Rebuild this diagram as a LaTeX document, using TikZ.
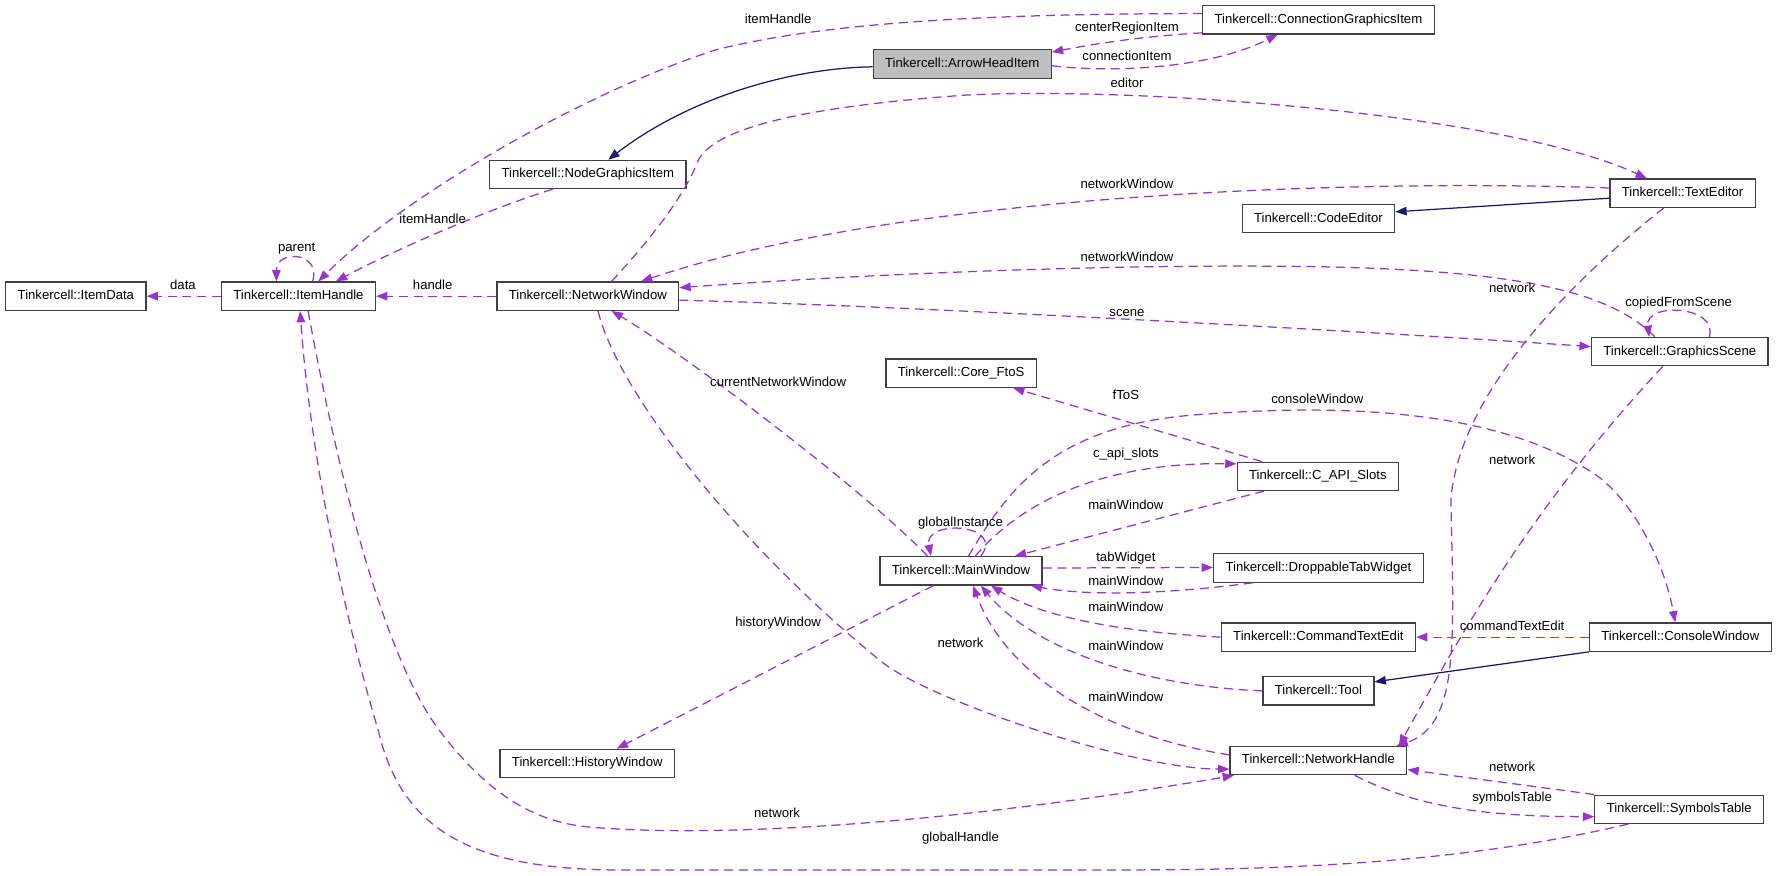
\documentclass[tikz,border=0pt]{standalone}
\usepackage{fontspec}
\setmainfont{Liberation Sans}
\usetikzlibrary{arrows.meta}
\definecolor{mbrcol}{HTML}{9A32CD}
\definecolor{inhcol}{HTML}{191970}

\begin{document}
\begin{tikzpicture}[x=1pt,y=-1pt,
cls/.style={draw=black!75,line width=1.1pt,fill=white,minimum height=25pt,inner xsep=10.5pt,inner ysep=0pt,text height=8.5pt,text depth=2.5pt,font=\fontsize{11.6}{13}\selectfont},
cur/.style={cls,fill=black!25},
mbr/.style={draw=mbrcol,line width=1.1pt,dash pattern=on 8pt off 5pt,-{Triangle[length=10pt,width=7.5pt]}},
inh/.style={draw=inhcol,line width=1.1pt,-{Triangle[length=10pt,width=7.5pt]}},
lbl/.style={inner sep=0pt,text height=8.5pt,text depth=2.5pt,font=\fontsize{11.6}{13}\selectfont}]
\useasboundingbox (0,0) rectangle (1568,773);
\node[cur] (ahi) at (849.5,56.5) {Tinkercell::ArrowHeadItem};
\node[cls] (cgi) at (1164,17.5) {Tinkercell::ConnectionGraphicsItem};
\node[cls] (ngi) at (519,154) {Tinkercell::NodeGraphicsItem};
\node[cls] (idata) at (67,261.5) {Tinkercell::ItemData};
\node[cls] (ihandle) at (263.5,261.5) {Tinkercell::ItemHandle};
\node[cls] (nwin) at (519,261.5) {Tinkercell::NetworkWindow};
\node[cls] (ted) at (1485.5,170.5) {Tinkercell::TextEditor};
\node[cls] (ced) at (1164,193) {Tinkercell::CodeEditor};
\node[cls] (gscene) at (1483,310.5) {Tinkercell::GraphicsScene};
\node[cls] (ftos) at (848.5,329.5) {Tinkercell::Core\_FtoS};
\node[cls] (capi) at (1163.5,420.5) {Tinkercell::C\_API\_Slots};
\node[cls] (mwin) at (848.5,504) {Tinkercell::MainWindow};
\node[cls] (dtw) at (1164,501.5) {Tinkercell::DroppableTabWidget};
\node[cls] (cte) at (1164,562.5) {Tinkercell::CommandTextEdit};
\node[cls] (cwin) at (1483.5,562.5) {Tinkercell::ConsoleWindow};
\node[cls] (tool) at (1164,610) {Tinkercell::Tool};
\node[cls] (hwin) at (518.5,674) {Tinkercell::HistoryWindow};
\node[cls] (nhandle) at (1164,671.5) {Tinkercell::NetworkHandle};
\node[cls] (stable) at (1482.5,714.5) {Tinkercell::SymbolsTable};
\draw[inh] ([yshift=-2.5pt]ahi.west) .. controls (700,60) and (610,85) .. ([xshift=18pt]ngi.north);
\draw[inh] ([yshift=-4.5pt]ted.west) -- ([yshift=6pt]ced.east);
\draw[inh] (cwin.south west) -- ([yshift=8pt]tool.east);
\draw[mbr] ([yshift=-11.5pt]cgi.west) .. controls (1010,32) and (970,38) .. ([yshift=10.5pt]ahi.east);
\draw[mbr] ([yshift=-1.5pt]ahi.east) .. controls (975,64) and (1065,62) .. ([xshift=-36pt]cgi.south);
\draw[mbr] ([yshift=5.5pt]cgi.west) .. controls (850,12) and (720,22) .. (632,44) .. controls (520,80) and (360,170) .. ([xshift=17.5pt]ihandle.north);
\draw[mbr] ([xshift=-31pt]ngi.south) .. controls (430,185) and (350,220) .. ([xshift=33pt]ihandle.north);
\draw[mbr] ([xshift=12.5pt]ihandle.north) .. controls (284,222) and (244,220) .. ([xshift=-19.5pt]ihandle.north);
\draw[mbr] (ihandle.west) -- (idata.east);
\draw[mbr] (nwin.west) -- (ihandle.east);
\draw[mbr] ([xshift=21pt]nwin.north) .. controls (580,205) and (605,170) .. (615,145) .. controls (625,115) and (700,95) .. (852,84) .. controls (1000,76) and (1330,100) .. ([xshift=-31.5pt]ted.north);
\draw[mbr] ([yshift=4.5pt]ted.west) .. controls (1200,158) and (800,170) .. ([xshift=47pt]nwin.north);
\draw[mbr] ([xshift=-22pt]gscene.north) .. controls (1420,255) and (1330,236) .. (1121,235) .. controls (950,234) and (750,243) .. ([yshift=7.5pt]nwin.east);
\draw[mbr] ([yshift=-3.5pt]nwin.east) .. controls (800,270) and (1200,292) .. ([yshift=4.5pt]gscene.west);
\draw[mbr] ([xshift=26pt]gscene.north) .. controls (1518,270) and (1452,266) .. ([xshift=-27pt]gscene.north);
\draw[mbr] ([xshift=-16.5pt]ted.south) .. controls (1400,238) and (1290,340) .. (1281,440) .. controls (1283,560) and (1290,640) .. ([xshift=69pt]nhandle.north);
\draw[mbr] ([xshift=-15pt]gscene.south) .. controls (1350,450) and (1290,560) .. ([xshift=71pt]nhandle.north);
\draw[mbr] ([xshift=-29.5pt]mwin.north) .. controls (760,430) and (600,310) .. ([xshift=21pt]nwin.south);
\draw[mbr] ([xshift=17.5pt]mwin.north) .. controls (888,462) and (815,458) .. ([xshift=-26.5pt]mwin.north);
\draw[mbr] ([xshift=6.5pt]mwin.north) .. controls (890,432) and (930,375) .. (1059,366) .. controls (1200,355) and (1330,365) .. (1410,420) .. controls (1445,446) and (1470,500) .. ([xshift=-4.5pt]cwin.north);
\draw[mbr] ([xshift=12.5pt]mwin.north) .. controls (900,445) and (970,408) .. ([yshift=11pt]capi.west);
\draw[mbr] ([xshift=-49.5pt]capi.north) -- ([xshift=46pt]ftos.south);
\draw[mbr] ([xshift=-47.5pt]capi.south) -- ([xshift=47.5pt]mwin.north);
\draw[mbr] ([yshift=2.5pt]mwin.east) -- ([yshift=0.5pt]dtw.west);
\draw[mbr] ([xshift=-58pt]dtw.south) .. controls (1050,522) and (970,528) .. ([xshift=61.5pt]mwin.south);
\draw[mbr] (cte.west) .. controls (990,558) and (920,545) .. ([xshift=26.5pt]mwin.south);
\draw[mbr] (tool.west) .. controls (1000,605) and (910,570) .. ([xshift=17.5pt]mwin.south);
\draw[mbr] ([yshift=5pt]nhandle.west) .. controls (980,650) and (890,600) .. ([xshift=10.5pt]mwin.south);
\draw[mbr] ([xshift=-24.5pt]mwin.south) -- ([xshift=26pt]hwin.north);
\draw[mbr] ([xshift=9pt]nwin.south) .. controls (545,345) and (650,480) .. (778,584) .. controls (820,618) and (1000,679) .. ([yshift=-7.5pt]nhandle.west);
\draw[mbr] ([xshift=8.5pt]ihandle.south) .. controls (295,400) and (335,575) .. (388,645) .. controls (430,700) and (470,725) .. (518,730) .. controls (600,737) and (700,732) .. (783,725) .. controls (880,717) and (1000,700) .. ([xshift=4pt]nhandle.south west);
\draw[mbr] ([xshift=-45pt]stable.south) .. controls (1300,760) and (1150,768) .. (1000,768) -- (560,768) .. controls (420,770) and (355,735) .. (334,645) .. controls (313,576) and (275,420) .. ([xshift=1.5pt]ihandle.south);
\draw[mbr] (stable.north west) -- ([yshift=-8pt]nhandle.east);
\draw[mbr] ([xshift=32pt]nhandle.south) .. controls (1250,712) and (1310,721) .. ([yshift=-6.5pt]stable.west);
\draw[mbr] (cwin.west) -- (cte.east);
\foreach \t/\x/\y [count=\n] in {itemHandle/687/18, centerRegionItem/995/24.5, connectionItem/995/50, editor/995/74.5, itemHandle/382/194, parent/262/219, data/161.5/253, handle/382/253, networkWindow/995/163, networkWindow/995/228, network/1335/255, copiedFromScene/1482/268, scene/995/276, currentNetworkWindow/687/338, fToS/994/350, consoleWindow/1163/353, c\_api\_slots/994/401, network/1335/407, mainWindow/994/447, globalInstance/848/462, tabWidget/994/493, mainWindow/994/514, mainWindow/994/537, historyWindow/687/550, commandTextEdit/1335/553.5, network/848/569, mainWindow/994/571, mainWindow/994/616, network/1335/678, symbolsTable/1335/705, network/686/719, globalHandle/848/740}
\node[lbl] (lab\n) at (\x,\y) {\t};
\end{tikzpicture}
\end{document}
